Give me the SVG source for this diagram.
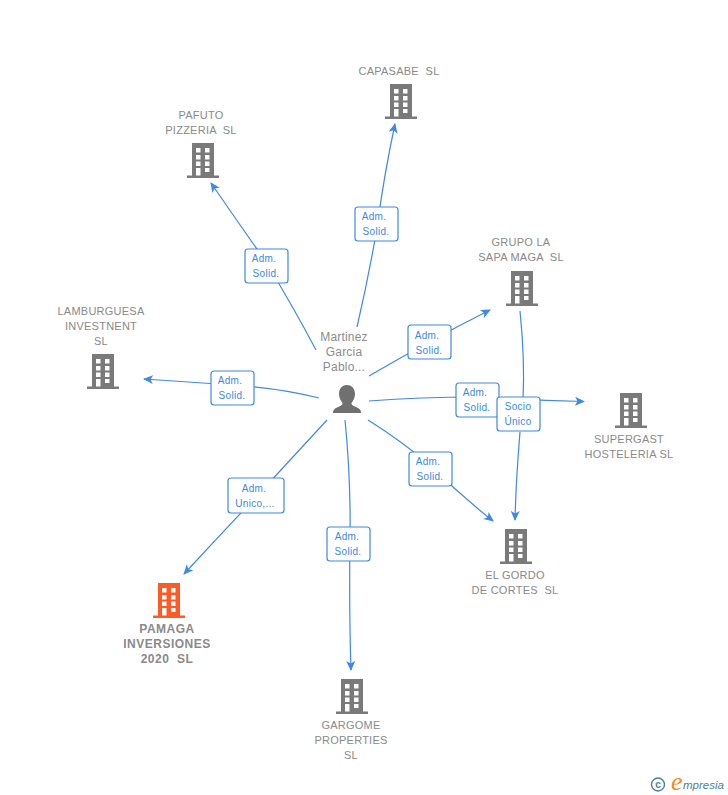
<svg xmlns="http://www.w3.org/2000/svg" width="728" height="795" viewBox="0 0 728 795">
<style>
text{white-space:pre}
.l{font-family:"Liberation Sans",Arial,sans-serif;font-size:11px;fill:#8a8a8a;text-anchor:middle;letter-spacing:.25px}
.b{font-weight:bold;font-size:12px;letter-spacing:.5px}
.p{font-size:12px;fill:#8c8c8c;letter-spacing:.2px}
.e{fill:none;stroke:#4088e4;stroke-width:1.200}
.box{fill:#fff;stroke:#4088e4;stroke-width:1.200}
.t{font-family:"Liberation Sans",Arial,sans-serif;font-size:10px;fill:#4088e4;text-anchor:middle;letter-spacing:.3px}
</style>
<defs>
<path id="bld" fill-rule="evenodd" d="M-11 0H11V32.500H16V35H-16V32.500H-11ZM-7 5V9.500H-2.500V5ZM2 5V9.500H6.500V5ZM-7 12V16.500H-2.500V12ZM2 12V16.500H6.500V12ZM-7 18.500V23H-2.500V18.500ZM2 18.500V23H6.500V18.500ZM-7 25V32.500H-2.500V25ZM2 25V29H6.500V25Z"/>
<marker id="arr" markerWidth="11" markerHeight="10" refX="9" refY="5" orient="auto" markerUnits="userSpaceOnUse"><path d="M0 0.500L10 5L0 9.500L2.500 5Z" fill="#4088e4"/></marker>
</defs>
<g id="connectors">
<path class="e" marker-end="url(#arr)" d="M357 327Q368 280 377 228Q384 175 395 124"/>
<path class="e" marker-end="url(#arr)" d="M316 350Q295 310 266 262Q240 225 211 183"/>
<path class="e" marker-end="url(#arr)" d="M369 376Q400 358 429 342Q460 325 490 310"/>
<path class="e" marker-end="url(#arr)" d="M319 398Q280 388 232 385Q190 382 144 379"/>
<path class="e" marker-end="url(#arr)" d="M369 401Q420 397 477 397Q530 400 584 401.500"/>
<path class="e" marker-end="url(#arr)" d="M368 420Q400 440 430 465Q460 495 493 521"/>
<path class="e" marker-end="url(#arr)" d="M327 420Q290 460 256 497Q220 535 184 574"/>
<path class="e" marker-end="url(#arr)" d="M345 420Q351 480 350 540Q349 610 351 670"/>
<path class="e" d="M520 311Q525 360 523 400"/>
<path class="e" marker-end="url(#arr)" d="M520 432Q516 480 515 520"/>
</g>
<g id="edge-labels">
<rect class="box" x="355" y="207" width="43" height="34" rx="3"/><text class="t" x="374" y="220">Adm.</text><text class="t" x="376" y="235">Solid.</text>
<rect class="box" x="245" y="249" width="43" height="34" rx="3"/><text class="t" x="264" y="262">Adm.</text><text class="t" x="266" y="277">Solid.</text>
<rect class="box" x="408" y="325" width="43" height="34" rx="3"/><text class="t" x="427" y="339">Adm.</text><text class="t" x="429" y="354">Solid.</text>
<rect class="box" x="211" y="371" width="43" height="34" rx="3"/><text class="t" x="230" y="384">Adm.</text><text class="t" x="232" y="399">Solid.</text>
<rect class="box" x="456" y="383" width="43" height="34" rx="3"/><text class="t" x="475" y="396">Adm.</text><text class="t" x="477" y="411">Solid.</text>
<rect class="box" x="497" y="397" width="43" height="34" rx="3"/><text class="t" x="518" y="410">Socio</text><text class="t" x="518" y="425">Único</text>
<rect class="box" x="409" y="452" width="43" height="34" rx="3"/><text class="t" x="428" y="465">Adm.</text><text class="t" x="430" y="480">Solid.</text>
<rect class="box" x="228" y="478" width="56" height="35" rx="3"/><text class="t" x="254" y="492">Adm.</text><text class="t" x="255" y="507">Unico,...</text>
<rect class="box" x="327" y="527" width="43" height="34" rx="3"/><text class="t" x="347" y="540">Adm.</text><text class="t" x="348" y="555">Solid.</text>
</g>
<g id="person">
<text class="l p" x="344" y="341">Martinez</text><text class="l p" x="344" y="356">Garcia</text><text class="l p" x="344" y="371">Pablo...</text>
<path fill="#707070" d="M347 385C352.500 385 355 389.500 355 394C355 398 353 401 351.500 403C351 405 354 406 357 407.500C360 408.500 361 410.500 361 413H333C333 410.500 334 408.500 337 407.500C340 406 343 405 342.500 403C341 401 339 398 339 394C339 389.500 341.500 385 347 385Z"/>
</g>
<g id="capasabe"><text class="l" x="399" y="75">CAPASABE  SL</text><use href="#bld" x="401" y="84" fill="#7a7a7a"/></g>
<g id="pafuto"><text class="l" x="201" y="119">PAFUTO</text><text class="l" x="201" y="134">PIZZERIA  SL</text><use href="#bld" x="203" y="143" fill="#7a7a7a"/></g>
<g id="grupo"><text class="l" x="521" y="246">GRUPO LA</text><text class="l" x="521" y="261">SAPA MAGA  SL</text><use href="#bld" x="522" y="271" fill="#7a7a7a"/></g>
<g id="lamburguesa"><text class="l" x="101" y="315">LAMBURGUESA</text><text class="l" x="101" y="330">INVESTNENT</text><text class="l" x="101" y="345">SL</text><use href="#bld" x="103" y="354" fill="#7a7a7a"/></g>
<g id="supergast"><text class="l" x="629" y="443">SUPERGAST</text><text class="l" x="629" y="458">HOSTELERIA SL</text><use href="#bld" x="631" y="393" fill="#7a7a7a"/></g>
<g id="gordo"><text class="l" x="515" y="579">EL GORDO</text><text class="l" x="515" y="594">DE CORTES  SL</text><use href="#bld" x="516" y="529" fill="#7a7a7a"/></g>
<g id="pamaga"><text class="l b" x="167" y="633">PAMAGA</text><text class="l b" x="167" y="648">INVERSIONES</text><text class="l b" x="167" y="663">2020  SL</text><use href="#bld" x="169" y="583" fill="#ff5a26"/></g>
<g id="gargome"><text class="l" x="351" y="729">GARGOME</text><text class="l" x="351" y="744">PROPERTIES</text><text class="l" x="351" y="759">SL</text><use href="#bld" x="352" y="679" fill="#7a7a7a"/></g>
<g id="logo">
<circle cx="658" cy="784.500" r="6.500" fill="none" stroke="#4a7f96" stroke-width="1.400"/>
<text x="658" y="788" font-family="Liberation Sans,sans-serif" font-size="10" font-weight="bold" fill="#4a7f96" text-anchor="middle">c</text>
<text x="671" y="790" font-family="Liberation Serif,serif" font-style="italic" font-size="26" fill="#f08a24">e</text>
<text x="683" y="789" font-family="Liberation Sans,sans-serif" font-style="italic" font-size="11.500" fill="#4a7f96">mpresia</text>
</g>
</svg>
